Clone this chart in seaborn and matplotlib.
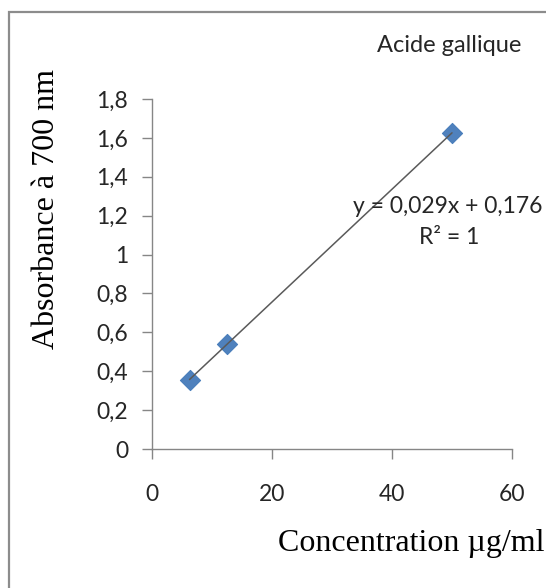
import matplotlib
matplotlib.use("Agg")
import matplotlib.pyplot as plt
import seaborn as sns
import pandas as pd
import numpy as np
from matplotlib.patches import Rectangle

# Calibration data: gallic acid concentration vs absorbance
concentration = [6.25, 12.5, 50.0]
absorbance = [0.357, 0.539, 1.626]
slope = 0.029
intercept = 0.176
x_ticks = [0, 20, 40, 60]
y_ticks = [0, 0.2, 0.4, 0.6, 0.8, 1.0, 1.2, 1.4, 1.6, 1.8]
y_tick_labels = ["0", "0,2", "0,4", "0,6", "0,8", "1", "1,2", "1,4", "1,6", "1,8"]

sns.set_theme(style="white")
plt.rcParams["font.family"] = ["Lato", "DejaVu Sans"]

fig = plt.figure(figsize=(5.46, 5.88), dpi=100)
W, H = 546, 588
ax = fig.add_axes([152 / W, 1 - 449 / H, 360 / W, 350 / H])

points = pd.DataFrame({"x": concentration, "y": absorbance})
fit_x = np.array([min(concentration), max(concentration)])
trend = pd.DataFrame({"x": fit_x, "y": slope * fit_x + intercept})

sns.scatterplot(data=points, x="x", y="y", marker="D", s=105, color="#4F81BD",
                edgecolor="#4A7EBB", linewidth=0.8, ax=ax, zorder=3)
sns.lineplot(data=trend, x="x", y="y", color="#5a5a5a", linewidth=1.1, ax=ax, zorder=4)

ax.set_xlim(0, 60)
ax.set_ylim(0, 1.8)
ax.set_xticks(x_ticks)
ax.set_xticklabels([str(t) for t in x_ticks])
ax.set_yticks(y_ticks)
ax.set_yticklabels(y_tick_labels)
ax.set_xlabel("")
ax.set_ylabel("")

for side in ["top", "right"]:
    ax.spines[side].set_visible(False)
for side in ["left", "bottom"]:
    ax.spines[side].set_color("#868686")
    ax.spines[side].set_linewidth(1.0)

ax.tick_params(axis="both", which="major", direction="out", length=7.2, width=1.0,
               color="#868686", labelsize=16.5, labelcolor="#262626")
ax.tick_params(axis="y", pad=10)
ax.tick_params(axis="x", pad=18)
ax.tick_params(left=True, bottom=True)

serif = ["Liberation Serif", "DejaVu Serif"]
fig.text(47 / W, 1 - 209 / H, "Absorbance à 700 nm", rotation=90, ha="center", va="center",
         fontsize=23, family=serif, color="black")
fig.text(411 / W, 1 - 543 / H, "Concentration µg/ml", ha="center", va="center",
         fontsize=23, family=serif, color="black")

fig.text(449 / W, 1 - 45 / H, "Acide gallique", ha="center", va="center",
         fontsize=17, color="#262626")
fig.text(448 / W, 1 - 206 / H, "y = 0,029x + 0,176", ha="center", va="center",
         fontsize=16.5, color="#262626")
fig.text(449 / W, 1 - 238 / H, "R² = 1", ha="center", va="center",
         fontsize=16.5, color="#262626")

# Chart frame
fig.patches.append(Rectangle((9 / W, -0.1), 1.2, 1.1 - 12.5 / H, transform=fig.transFigure,
                             fill=False, edgecolor="#8c8c8c", linewidth=1.6))

fig.savefig("out.png", dpi=100)
